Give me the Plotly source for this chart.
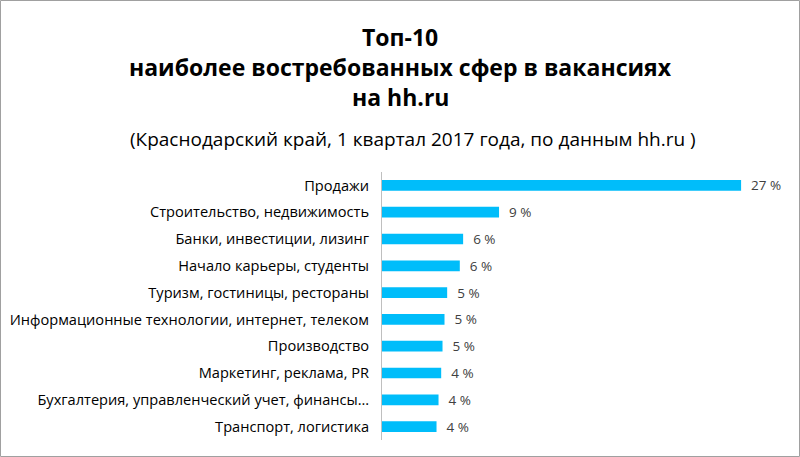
import plotly.graph_objects as go

categories = [
    "Продажи",
    "Строительство, недвижимость",
    "Банки, инвестиции, лизинг",
    "Начало карьеры, студенты",
    "Туризм, гостиницы, рестораны",
    "Информационные технологии, интернет, телеком",
    "Производство",
    "Маркетинг, реклама, PR",
    "Бухгалтерия, управленческий учет, финансы…",
    "Транспорт, логистика",
]
values = [27.0, 8.8, 6.1, 5.85, 4.9, 4.7, 4.55, 4.45, 4.25, 4.1]
value_labels = ["27 %", "9 %", "6 %", "6 %", "5 %", "5 %", "5 %", "4 %", "4 %", "4 %"]

title_lines = ["Топ-10", "наиболее востребованных сфер в вакансиях", "на hh.ru"]
subtitle = "(Краснодарский край, 1 квартал 2017 года, по данным hh.ru )"

W, H = 800, 457
ML, MR, MT, MB = 382, 19, 172, 17
PW, PH = W - ML - MR, H - MT - MB

def py(ypx):
    return (H - MB - ypx) / PH

def px(xpx):
    return (xpx - ML) / PW

FONT = "Open Sans"

fig = go.Figure(go.Bar(
    x=values,
    y=categories,
    orientation="h",
    marker=dict(color="#00BDFA", line=dict(width=0)),
    text=["\u00a0\u00a0" + t for t in value_labels],
    textposition="outside",
    constraintext="none",
    textfont=dict(family=FONT, size=13.5, color="#404040"),
    cliponaxis=False,
    hoverinfo="skip",
))

annotations = []
for i, line in enumerate(title_lines):
    annotations.append(dict(
        text="<b>" + line + "</b>", xref="paper", yref="paper",
        x=px(400), y=py(37 + 30 * i), xanchor="center", yanchor="middle",
        showarrow=False, font=dict(family=FONT, size=23, color="#000000"),
    ))
annotations.append(dict(
    text=subtitle, xref="paper", yref="paper",
    x=px(413), y=py(139), xanchor="center", yanchor="middle",
    showarrow=False, font=dict(family=FONT, size=19, color="#000000"),
))

fig.update_layout(
    width=W, height=H,
    margin=dict(l=ML, r=MR, t=MT, b=MB, pad=0, autoexpand=False),
    paper_bgcolor="white", plot_bgcolor="white",
    showlegend=False,
    bargap=0.6,
    xaxis=dict(range=[0, 30], visible=False, fixedrange=True, automargin=False),
    yaxis=dict(
        autorange="reversed", showline=True, linecolor="#BFBFBF", linewidth=1,
        ticks="", showgrid=False, zeroline=False, fixedrange=True, automargin=False,
        tickfont=dict(family=FONT, size=14.6, color="#000000"),
        ticklabelstandoff=9,
    ),
    annotations=annotations,
    shapes=[dict(
        type="rect", xref="paper", yref="paper",
        x0=px(0.5), x1=px(W - 0.5), y0=py(H - 0.5), y1=py(0.5),
        line=dict(color="#A0A0A0", width=1), layer="above",
    )],
)

fig.write_html(
    "out.html",
    config={"displayModeBar": False},
    post_script="document.body.style.margin='0';document.body.style.padding='0';",
)
